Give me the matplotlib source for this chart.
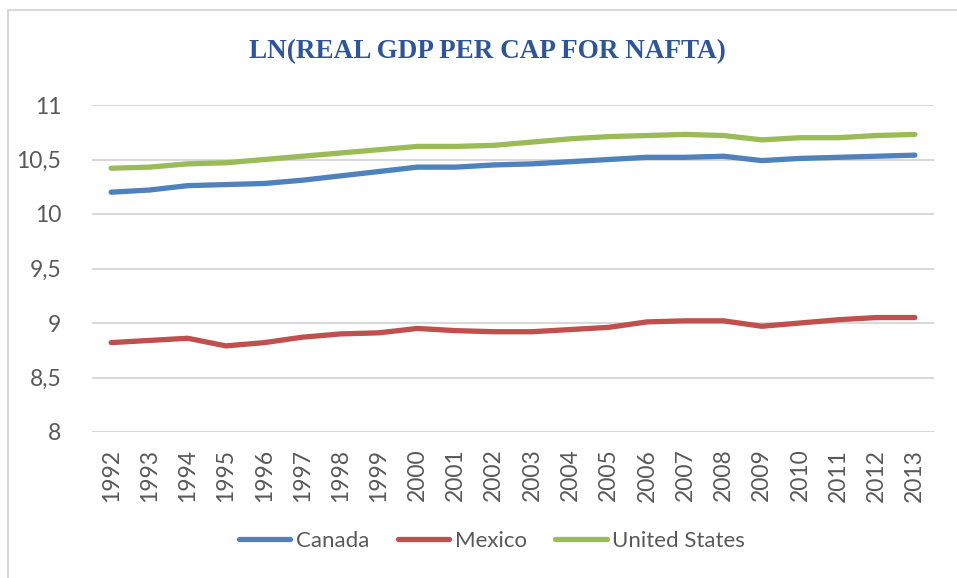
import matplotlib.pyplot as plt
from matplotlib.patches import Rectangle
from matplotlib.ticker import FuncFormatter

# Donnees
annees = list(range(1992, 2014))
canada = [10.20, 10.22, 10.26, 10.27, 10.28, 10.31, 10.35, 10.39, 10.43, 10.43, 10.45,
          10.46, 10.48, 10.50, 10.52, 10.52, 10.53, 10.49, 10.51, 10.52, 10.53, 10.54]
mexique = [8.82, 8.84, 8.86, 8.79, 8.82, 8.87, 8.90, 8.91, 8.95, 8.93, 8.92,
           8.92, 8.94, 8.96, 9.01, 9.02, 9.02, 8.97, 9.00, 9.03, 9.05, 9.05]
usa = [10.42, 10.43, 10.46, 10.47, 10.50, 10.53, 10.56, 10.59, 10.62, 10.62, 10.63,
       10.66, 10.69, 10.71, 10.72, 10.73, 10.72, 10.68, 10.70, 10.70, 10.72, 10.73]
noms = ["Canada", "Mexico", "United States"]
couleurs = ["#4F81BD", "#C0504D", "#9BBB59"]

plt.rcParams["font.family"] = ["Lato", "DejaVu Sans"]

fig = plt.figure(figsize=(9.57, 5.78), dpi=100)
ax = fig.add_axes([92/957, 1-432/578, 842/957, 327/578])

for serie, nom, c in zip([canada, mexique, usa], noms, couleurs):
    ax.plot(annees, serie, color=c, lw=3.8, solid_capstyle="round", label=nom)

ax.set_xlim(1991.5, 2013.5)
ax.set_ylim(8, 11)
ax.set_yticks([8, 8.5, 9, 9.5, 10, 10.5, 11])
ax.yaxis.set_major_formatter(FuncFormatter(lambda v, p: ("%g" % v).replace(".", ",")))
ax.set_xticks(annees)
ax.set_xticklabels([str(a) for a in annees], rotation=90)
ax.tick_params(axis="both", length=0, labelsize=16.5, labelcolor="#595959")
ax.tick_params(axis="y", pad=22)
ax.tick_params(axis="x", pad=12)
ax.grid(axis="y", color="#D9D9D9", lw=1.5)
ax.set_axisbelow(True)
for s in ax.spines.values():
    s.set_visible(False)

fig.text(487/957, 1-52/578, "LN(REAL GDP PER CAP FOR NAFTA)", ha="center", va="center",
         family="Liberation Serif", weight="bold", fontsize=19.5, color="#2E5597")

fig.legend(loc="center", bbox_to_anchor=(492/957, 1-541/578), ncol=3, frameon=False,
           fontsize=16, labelcolor="#595959", handlelength=2.3, handletextpad=0.25,
           columnspacing=1.3)

# cadre gris
fig.patches.append(Rectangle((8/957, -0.01), 1.0, 1-10/578+0.01, transform=fig.transFigure,
                             fill=False, edgecolor="#D9D9D9", lw=1.5))

fig.savefig("out.png", dpi=100)
